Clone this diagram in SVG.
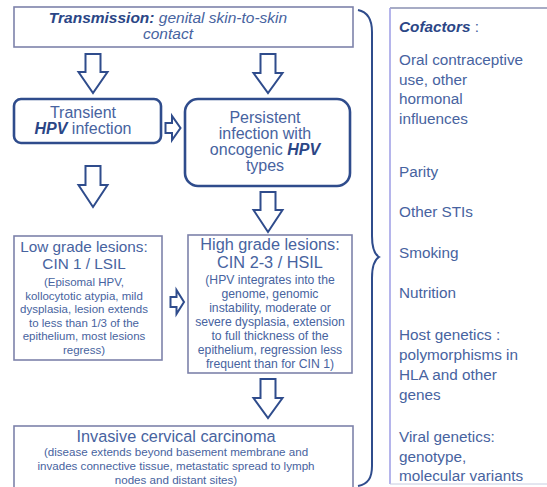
<svg xmlns="http://www.w3.org/2000/svg" width="547" height="487" viewBox="0 0 547 487">
<style>
text{font-family:"Liberation Sans",Arial,sans-serif;fill:#4763a0}
.b{font-weight:bold;font-style:italic;fill:#2b4686}
.box{fill:#fff;stroke:#7d82aa;stroke-width:1.6}
.rbox{fill:#fff;stroke:#2f4c8c;stroke-width:2.6}
.arr{fill:#fff;stroke:#2f4c8c;stroke-width:2;stroke-linejoin:miter}
.t16{font-size:16px}
.s{font-size:11.5px}
.c{font-size:15.3px}
</style>
<rect width="547" height="487" fill="#fff"/>
<g id="connectors">
<path class="arr" d="M85.5,54H100.5V72H107.5L93,93L78.5,72H85.5Z"/>
<path class="arr" d="M260.5,54H275.5V73H282.5L268,93L253.5,73H260.5Z"/>
<path class="arr" d="M85.5,166H100.5V185H107.5L93,207L78.5,185H85.5Z"/>
<path class="arr" d="M260.5,192H275.5V210H282.5L268,232L253.5,210H260.5Z"/>
<path class="arr" d="M260.5,379H275.5V398H282.5L268,418L253.5,398H260.5Z"/>
<path class="arr" d="M165.5,123V133H172V140L180.5,128L172,116V123Z"/>
<path class="arr" d="M170.5,297V307H176.5V314L184,302L176.5,290V297Z"/>
<path id="brace" d="M358,10C368,12 372,20 372,32V236C372,248 374,254 379,257C374,260 372,266 372,278V466C372,478 368,484 358,486" fill="none" stroke="#2f4c8c" stroke-width="2"/>
</g>
<g id="transmission">
<rect class="box" x="14" y="7" width="339" height="40"/>
<text x="168" y="23" text-anchor="middle" font-size="15.5" font-style="italic"><tspan class="b">Transmission:</tspan> genital skin-to-skin</text>
<text x="168" y="39" text-anchor="middle" font-size="15.5" font-style="italic">contact</text>
</g>
<g id="transient">
<rect class="rbox" x="14" y="99" width="147" height="44" rx="7"/>
<text class="t16" x="83" y="118" text-anchor="middle">Transient</text>
<text class="t16" x="83" y="134" text-anchor="middle"><tspan class="b">HPV</tspan> infection</text>
</g>
<g id="persistent">
<rect class="rbox" x="185" y="99" width="165" height="87" rx="13"/>
<text class="t16" x="265" y="123" text-anchor="middle">Persistent</text>
<text class="t16" x="265" y="139" text-anchor="middle">infection with</text>
<text class="t16" x="265" y="155" text-anchor="middle">oncogenic <tspan class="b">HPV</tspan></text>
<text class="t16" x="265" y="171" text-anchor="middle">types</text>
</g>
<g id="low">
<rect class="box" x="14" y="236" width="148" height="124"/>
<text x="84" y="251.5" text-anchor="middle" font-size="15.3">Low grade lesions:</text>
<text x="84" y="269" text-anchor="middle" font-size="15.3">CIN 1 / LSIL</text>
<g class="s" text-anchor="middle">
<text x="84" y="286">(Episomal HPV,</text>
<text x="84" y="299.5">kollocytotic atypia, mild</text>
<text x="84" y="313">dysplasia, lesion extends</text>
<text x="84" y="326.5">to less than 1/3  of the</text>
<text x="84" y="340">epithelium, most lesions</text>
<text x="84" y="353.5">regress)</text>
</g>
</g>
<g id="high">
<rect class="box" x="188" y="235" width="164" height="138"/>
<text x="270" y="250" text-anchor="middle" font-size="16.3">High grade lesions:</text>
<text x="270" y="268" text-anchor="middle" font-size="16.3">CIN 2-3 / HSIL</text>
<g text-anchor="middle" font-size="12.2">
<text x="270" y="284">(HPV integrates into the</text>
<text x="270" y="298">genome, genomic</text>
<text x="270" y="312">instability, moderate or</text>
<text x="270" y="326">severe dysplasia, extension</text>
<text x="270" y="340">to full thickness of the</text>
<text x="270" y="354">epithelium, regression less</text>
<text x="270" y="368">frequent than for CIN 1)</text>
</g>
</g>
<g id="invasive">
<rect class="box" x="14" y="426" width="339" height="66"/>
<text x="176" y="442" text-anchor="middle" font-size="16.3">Invasive cervical carcinoma</text>
<g text-anchor="middle" font-size="11.6">
<text x="176" y="456">(disease extends beyond basement membrane and</text>
<text x="176" y="470">invades connective tissue, metastatic spread to lymph</text>
<text x="176" y="484">nodes and distant sites)</text>
</g>
</g>
<g id="cofactors">
<line x1="390" y1="8" x2="547" y2="8" stroke="#8a90b2" stroke-width="1.6"/>
<line x1="390" y1="8" x2="390" y2="484" stroke="#a3a3e6" stroke-width="1.6"/>
<line x1="390" y1="484" x2="547" y2="484" stroke="#c8cce0" stroke-width="1"/>
<text class="c" x="399" y="32"><tspan class="b">Cofactors</tspan> :</text>
<text class="c" x="399" y="65">Oral contraceptive</text>
<text class="c" x="399" y="85">use, other</text>
<text class="c" x="399" y="104">hormonal</text>
<text class="c" x="399" y="124">influences</text>
<text class="c" x="399" y="177">Parity</text>
<text class="c" x="399" y="217">Other STIs</text>
<text class="c" x="399" y="258">Smoking</text>
<text class="c" x="399" y="298">Nutrition</text>
<text class="c" x="399" y="340">Host genetics :</text>
<text class="c" x="399" y="360">polymorphisms in</text>
<text class="c" x="399" y="380">HLA and other</text>
<text class="c" x="399" y="400">genes</text>
<text class="c" x="399" y="442">Viral genetics:</text>
<text class="c" x="399" y="462">genotype,</text>
<text class="c" x="399" y="481">molecular variants</text>
</g>
</svg>
